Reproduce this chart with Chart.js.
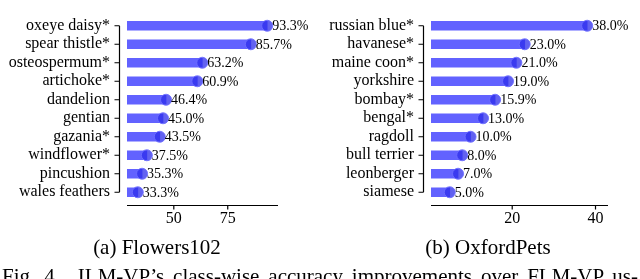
<!DOCTYPE html>
<html>
<head>
<meta charset="utf-8">
<script src="https://cdn.jsdelivr.net/npm/chart.js@4"></script>
<style>
  html, body { margin: 0; padding: 0; background: #fff; }
  body { width: 640px; height: 279px; position: relative; overflow: hidden;
         font-family: "Liberation Serif", "Times New Roman", serif; color: #000; }
  canvas { position: absolute; top: 0; }
  .cap { position: absolute; top: 237px; font-size: 21px; line-height: 21px; text-align: center; }
  .fig { position: absolute; left: 2px; top: 266px; width: 636px; font-size: 21px; line-height: 21px;
         text-align: justify; text-align-last: justify; white-space: nowrap; }
</style>
</head>
<body>
<canvas id="flowers" width="320" height="240" style="left:0"></canvas>
<canvas id="pets" width="320" height="240" style="left:320px"></canvas>
<div class="cap" style="left:0; width:314px">(a) Flowers102</div>
<div class="cap" style="left:320px; width:336px">(b) OxfordPets</div>
<div class="fig">Fig. 4. &nbsp;ILM-VP’s class-wise accuracy improvements over FLM-VP us-</div>
<script>
const flowerClasses = ['oxeye daisy*', 'spear thistle*', 'osteospermum*', 'artichoke*', 'dandelion',
  'gentian', 'gazania*', 'windflower*', 'pincushion', 'wales feathers'];
const flowerGains = [93.3, 85.7, 63.2, 60.9, 46.4, 45.0, 43.5, 37.5, 35.3, 33.3];
const flowerTicks = [50, 75];

const petClasses = ['russian blue*', 'havanese*', 'maine coon*', 'yorkshire', 'bombay*',
  'bengal*', 'ragdoll', 'bull terrier', 'leonberger', 'siamese'];
const petGains = [38.0, 23.0, 21.0, 19.0, 15.9, 13.0, 10.0, 8.0, 7.0, 5.0];
const petTicks = [20, 40];

const SERIF = '"Liberation Serif", "Times New Roman", serif';

// spines offset from the plot area, value labels next to the dots
const decorations = {
  id: 'decorations',
  afterDatasetsDraw(chart) {
    const ctx = chart.ctx;
    const xs = chart.scales.x, ys = chart.scales.y;
    const area = chart.chartArea;
    const values = chart.data.datasets[0].data;

    ctx.save();
    ctx.strokeStyle = '#000';
    ctx.lineWidth = 1.2;

    // y spine, trimmed to first/last category
    const sx = Math.round(area.left - 8) + 0.5;
    const y0 = ys.getPixelForValue(0), y1 = ys.getPixelForValue(values.length - 1);
    ctx.beginPath();
    ctx.moveTo(sx, y0);
    ctx.lineTo(sx, y1);
    for (let i = 0; i < values.length; i++) {
      const y = ys.getPixelForValue(i);
      ctx.moveTo(sx - 5, y);
      ctx.lineTo(sx, y);
    }
    // x spine
    const sy = Math.round(area.bottom + 3) + 0.5;
    ctx.moveTo(area.left, sy);
    ctx.lineTo(area.right, sy);
    xs.ticks.forEach(t => {
      const x = xs.getPixelForValue(t.value);
      ctx.moveTo(x, sy);
      ctx.lineTo(x, sy + 4);
    });
    ctx.stroke();

    ctx.fillStyle = '#000';
    ctx.font = '14px ' + SERIF;
    ctx.textAlign = 'left';
    ctx.textBaseline = 'middle';
    values.forEach((v, i) => {
      ctx.fillText(v.toFixed(1) + '%', xs.getPixelForValue(v) + 5, ys.getPixelForValue(i) + 1);
    });
    ctx.restore();
  }
};

function noPad(s) {
  s.paddingTop = 0; s.paddingBottom = 0; s.paddingLeft = 0; s.paddingRight = 0;
}

function renderGainChart(canvasId, classes, gains, ticks, xMin, xMax, padRight) {
  return new Chart(document.getElementById(canvasId), {
    type: 'bar',
    data: {
      labels: classes,
      datasets: [
        {
          type: 'bar',
          data: gains,
          backgroundColor: 'rgba(70, 70, 255, 0.85)',
          borderWidth: 0,
          barThickness: 9,
          order: 2,
        },
        {
          type: 'line',
          data: gains,
          showLine: false,
          pointRadius: 5.5,
          pointBackgroundColor: 'rgba(45, 45, 235, 0.75)',
          pointBorderColor: 'rgba(110, 110, 255, 0.9)',
          pointBorderWidth: 1,
          order: 1,
        },
      ],
    },
    options: {
      indexAxis: 'y',
      responsive: false,
      animation: false,
      layout: { padding: { top: 16.5, right: padRight, left: 0, bottom: 0 } },
      plugins: { legend: { display: false }, tooltip: { enabled: false } },
      scales: {
        x: {
          type: 'linear',
          min: xMin,
          max: xMax,
          afterFit: s => { s.height = 38.5; noPad(s); },
          afterBuildTicks: s => { s.ticks = ticks.map(v => ({ value: v })); },
          grid: { display: false, drawTicks: false },
          border: { display: false },
          ticks: { color: '#000', padding: 8, font: { family: SERIF, size: 16 } },
        },
        y: {
          afterFit: s => { s.width = canvasId === 'flowers' ? 127 : 111; noPad(s); },
          grid: { display: false, drawTicks: false },
          border: { display: false },
          ticks: { color: '#000', padding: 17, autoSkip: false, font: { family: SERIF, size: 16 } },
        },
      },
    },
    plugins: [decorations],
  });
}

const flowerMin = Math.min(...flowerGains) - 5, flowerMax = Math.max(...flowerGains) + 5;
const petMin = 0.5, petMax = Math.max(...petGains) + 5;
renderGainChart('flowers', flowerClasses, flowerGains, flowerTicks, flowerMin, flowerMax, 42);
renderGainChart('pets', petClasses, petGains, petTicks, petMin, petMax, 32);
</script>
</body>
</html>
